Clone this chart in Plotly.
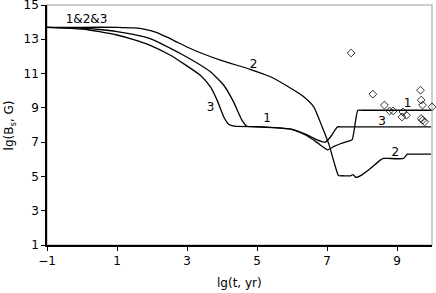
import plotly.graph_objects as go

# curve 2 (top at early times)
x2 = [-1, 0, 1, 1.5, 1.8, 2.1, 2.4, 2.7, 3.0, 3.4, 4.0, 4.8, 5.4, 6.0, 6.3, 6.62, 6.86, 7.05,
      7.24, 7.33, 7.45, 7.67, 7.74, 7.83, 7.95, 8.24, 8.52, 8.62, 8.75, 9.19, 9.29, 9.4, 9.97]
y2 = [13.7, 13.7, 13.7, 13.66, 13.58, 13.42, 13.15, 12.85, 12.55, 12.2, 11.75, 11.25, 10.8, 10.1,
      9.7, 9.06, 7.9, 6.9, 5.56, 5.05, 5.04, 5.03, 5.11, 4.94, 5.03, 5.46, 5.95, 6.05, 6.05,
      6.05, 6.3, 6.3, 6.3]

# curve 1
x1 = [-1, 0, 0.5, 1.0, 1.5, 1.95, 2.5, 2.9, 3.3, 3.67, 4.05, 4.33, 4.57, 4.71, 4.85, 5.5, 6.0,
      6.4, 6.7, 6.9, 7.02, 7.2, 7.4, 7.6, 7.72, 7.88, 8.0, 9.97]
y1 = [13.7, 13.65, 13.57, 13.45, 13.27, 13.04, 12.5, 12.07, 11.6, 11.1, 10.32, 9.35, 8.28,
      7.93, 7.9, 7.85, 7.75, 7.4, 7.0, 6.7, 6.55, 6.75, 6.92, 7.05, 7.15, 8.86, 8.86, 8.86]

# curve 3
x3 = [-1, 0, 0.5, 1.0, 1.5, 1.95, 2.5, 2.9, 3.38, 3.67, 3.86, 4.05, 4.19, 4.35, 5.0, 5.5, 6.0,
      6.4, 6.7, 6.95, 7.1, 7.3, 7.42, 9.97]
y3 = [13.7, 13.6, 13.45, 13.25, 12.97, 12.65, 12.1, 11.58, 10.9, 10.22, 9.45, 8.47, 8.05, 7.93,
      7.9, 7.85, 7.75, 7.45, 7.15, 7.0, 7.3, 7.89, 7.89, 7.89]

# observed pulsars (diamonds)
xs = [7.69, 8.31, 8.64, 8.79, 8.89, 9.17, 9.14, 9.27, 9.67, 9.69, 9.73, 10.0, 9.69, 9.73, 9.79]
ys = [12.2, 9.8, 9.16, 8.82, 8.82, 8.76, 8.47, 8.57, 10.03, 9.45, 9.16, 9.06, 8.38, 8.28, 8.18]

labels = ["1&2&3", "2", "3", "1", "3", "1", "2"]
lab_x = [0.13, 4.9, 3.67, 5.29, 8.57, 9.3, 8.95]
lab_y = [14.1, 11.5, 9.0, 8.33, 8.18, 9.2, 6.37]

FONT = "DejaVu Sans"

fig = go.Figure()
for xx, yy in [(x2, y2), (x1, y1), (x3, y3)]:
    fig.add_trace(go.Scatter(x=xx, y=yy, mode="lines", showlegend=False,
                             line=dict(color="black", width=1.3, shape="spline", smoothing=0.5)))
fig.add_trace(go.Scatter(x=xs, y=ys, mode="markers", cliponaxis=False, showlegend=False,
                         marker=dict(symbol="diamond-open", size=6, color="black",
                                     line=dict(width=0.8))))
fig.add_trace(go.Scatter(x=lab_x, y=lab_y, mode="text", text=labels, showlegend=False,
                         textfont=dict(family=FONT, size=12, color="black")))

# light grey frame on top/right, black axes left/bottom
fig.add_shape(type="rect", xref="paper", yref="paper", x0=0, y0=0, x1=1, y1=1,
              line=dict(color="#c0c0c0", width=1.5), layer="below")

# axis titles as annotations so the margins stay fixed
fig.add_annotation(x=0.5, y=-0.158, xref="paper", yref="paper", text="lg(t, yr)",
                   showarrow=False, yanchor="middle",
                   font=dict(family=FONT, size=12, color="black"))
fig.add_annotation(x=-0.095, y=0.5, xref="paper", yref="paper", text="lg(B<sub>s</sub>, G)",
                   showarrow=False, textangle=-90, xanchor="center",
                   font=dict(family=FONT, size=12, color="black"))

fig.update_xaxes(range=[-1, 10], tickvals=[-1, 1, 3, 5, 7, 9], showgrid=False, zeroline=False,
                 showline=True, linecolor="black", linewidth=1.5, ticks="outside",
                 ticklen=4, tickcolor="black", automargin=False,
                 tickfont=dict(family=FONT, size=12, color="black"))
fig.update_yaxes(range=[1, 15], tickvals=[1, 3, 5, 7, 9, 11, 13, 15], showgrid=False,
                 zeroline=False, showline=True, linecolor="black", linewidth=1.5,
                 ticks="outside", ticklen=4, tickcolor="black", automargin=False,
                 ticklabeloverflow="allow",
                 tickfont=dict(family=FONT, size=12, color="black"))
fig.update_layout(width=436, height=293, plot_bgcolor="white", paper_bgcolor="white",
                  margin=dict(l=47, r=4, t=5, b=48), font=dict(family=FONT, color="black"))
# drop the browser's default page margin so the figure sits at the window origin
fig.write_html("out.html", config={"displayModeBar": False},
               post_script="document.body.style.margin='0';")
